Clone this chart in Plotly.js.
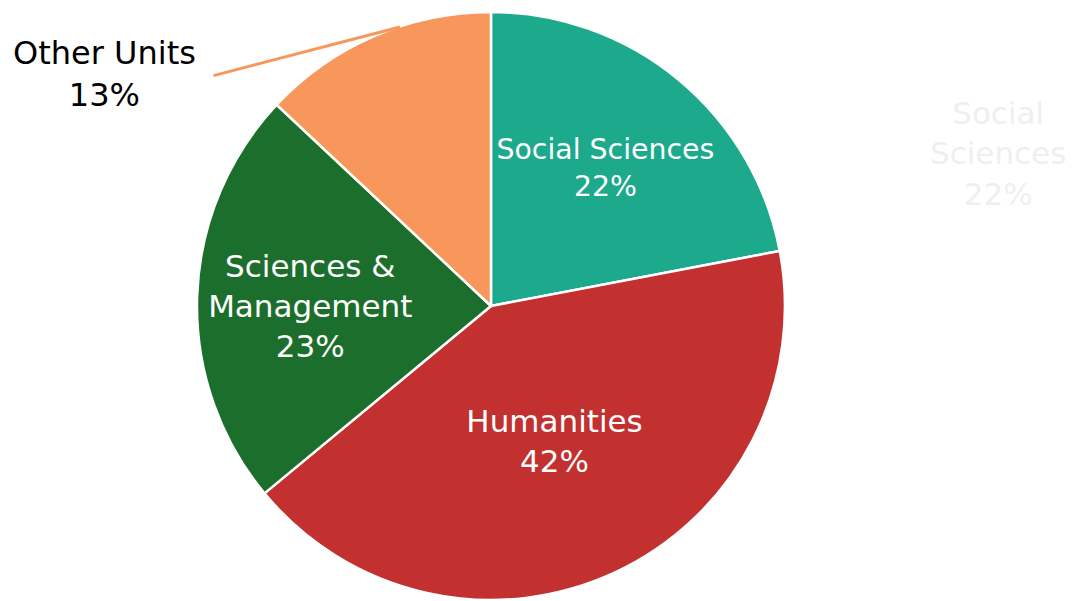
<!DOCTYPE html>
<html>
<head>
<meta charset="utf-8">
<script src="https://cdn.plot.ly/plotly-3.0.1.min.js"></script>
<style>html,body{margin:0;padding:0;background:#fff;}#chart{width:1078px;height:601px;}</style>
</head>
<body>
<div id="chart"></div>
<script>
const categories = ["Social Sciences", "Humanities", "Sciences &<br>Management", "Other Units"];
const shares = [22, 42, 23, 13];
const colors = ["#1CA98C", "#C2302F", "#1B6E2B", "#F8975B"];

const texts = categories.map((c, i) => i === 3 ? "" : c + "<br>" + shares[i] + "%");

const trace = {
  type: "pie",
  values: shares,
  labels: categories,
  text: texts,
  textinfo: "text",
  textposition: "inside",
  insidetextorientation: "horizontal",
  sort: false,
  direction: "clockwise",
  rotation: 0,
  marker: {colors: colors, line: {color: "#ffffff", width: 2.5}},
  insidetextfont: {family: "DejaVu Sans", size: 31, color: "#ffffff"},
  domain: {x: [0.1827, 0.7282], y: [0.0017, 0.980]},
  hoverinfo: "none"
};

const layout = {
  width: 1078, height: 601,
  margin: {l: 0, r: 0, t: 0, b: 0},
  showlegend: false,
  paper_bgcolor: "#ffffff",
  annotations: [
    {xref: "paper", yref: "paper", x: 400/1078, y: 1 - 27/601, ax: -188, ay: 49,
     text: "", showarrow: true, arrowhead: 0, arrowwidth: 3, arrowcolor: "#F8975B", standoff: 0, startstandoff: 0},
    {xref: "paper", yref: "paper", x: 104/1078, y: 1 - 74/601, xanchor: "center", yanchor: "middle",
     text: categories[3] + "<br>" + shares[3] + "%", showarrow: false,
     font: {family: "DejaVu Sans", size: 32, color: "#000000"}},
    {xref: "paper", yref: "paper", x: 998/1078, y: 1 - 153/601, xanchor: "center", yanchor: "middle",
     text: "Social<br>Sciences<br>" + shares[0] + "%", showarrow: false,
     font: {family: "DejaVu Sans", size: 31, color: "#efefef"}}
  ]
};

Plotly.newPlot("chart", [trace], layout, {displayModeBar: false, staticPlot: true});
</script>
</body>
</html>
